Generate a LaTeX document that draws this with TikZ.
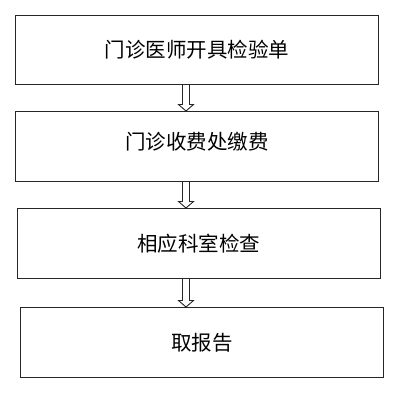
\documentclass[tikz,border=0pt]{standalone}
\usepackage{fontspec}
\newfontfamily\cjk{Noto Sans CJK SC}
\usetikzlibrary{calc}
\tikzset{
  stepbox/.style={draw=black!85, line width=0.9pt, rectangle, minimum width=363pt, minimum height=69pt, inner sep=0pt, font=\cjk\fontsize{20.5}{24}\selectfont, anchor=north west},
  arrowline/.style={draw=black!85, line width=0.9pt, line join=miter},
}
\newcommand{\hollowarrow}[2]{%
  \draw[arrowline]
    ($(182.5,0 |- #1.south)$) -- ($(182.5,0 |- #2.north)+(0,6.5)$)
    -- ($(178.5,0 |- #2.north)+(0,6.5)$) -- ($(186,0 |- #2.north)$)
    -- ($(193.5,0 |- #2.north)+(0,6.5)$) -- ($(189.5,0 |- #2.north)+(0,6.5)$)
    -- ($(189.5,0 |- #1.south)$);}
\begin{document}
\begin{tikzpicture}[x=1pt,y=1pt]
\useasboundingbox (0,0) rectangle (402,-392);
\fill[white] (0,0) rectangle (402,-392);
\node[stepbox] (b1) at (15,-15) {门诊医师开具检验单};
\node[stepbox, minimum height=70pt, text depth=12pt] (b2) at (15,-111) {门诊收费处缴费};
\node[stepbox, minimum height=70pt] (b3) at (17,-208) {相应科室检查};
\node[stepbox, minimum height=70pt] (b4) at (20,-307) {取报告};
\hollowarrow{b1}{b2}
\hollowarrow{b2}{b3}
\hollowarrow{b3}{b4}
\end{tikzpicture}
\end{document}
